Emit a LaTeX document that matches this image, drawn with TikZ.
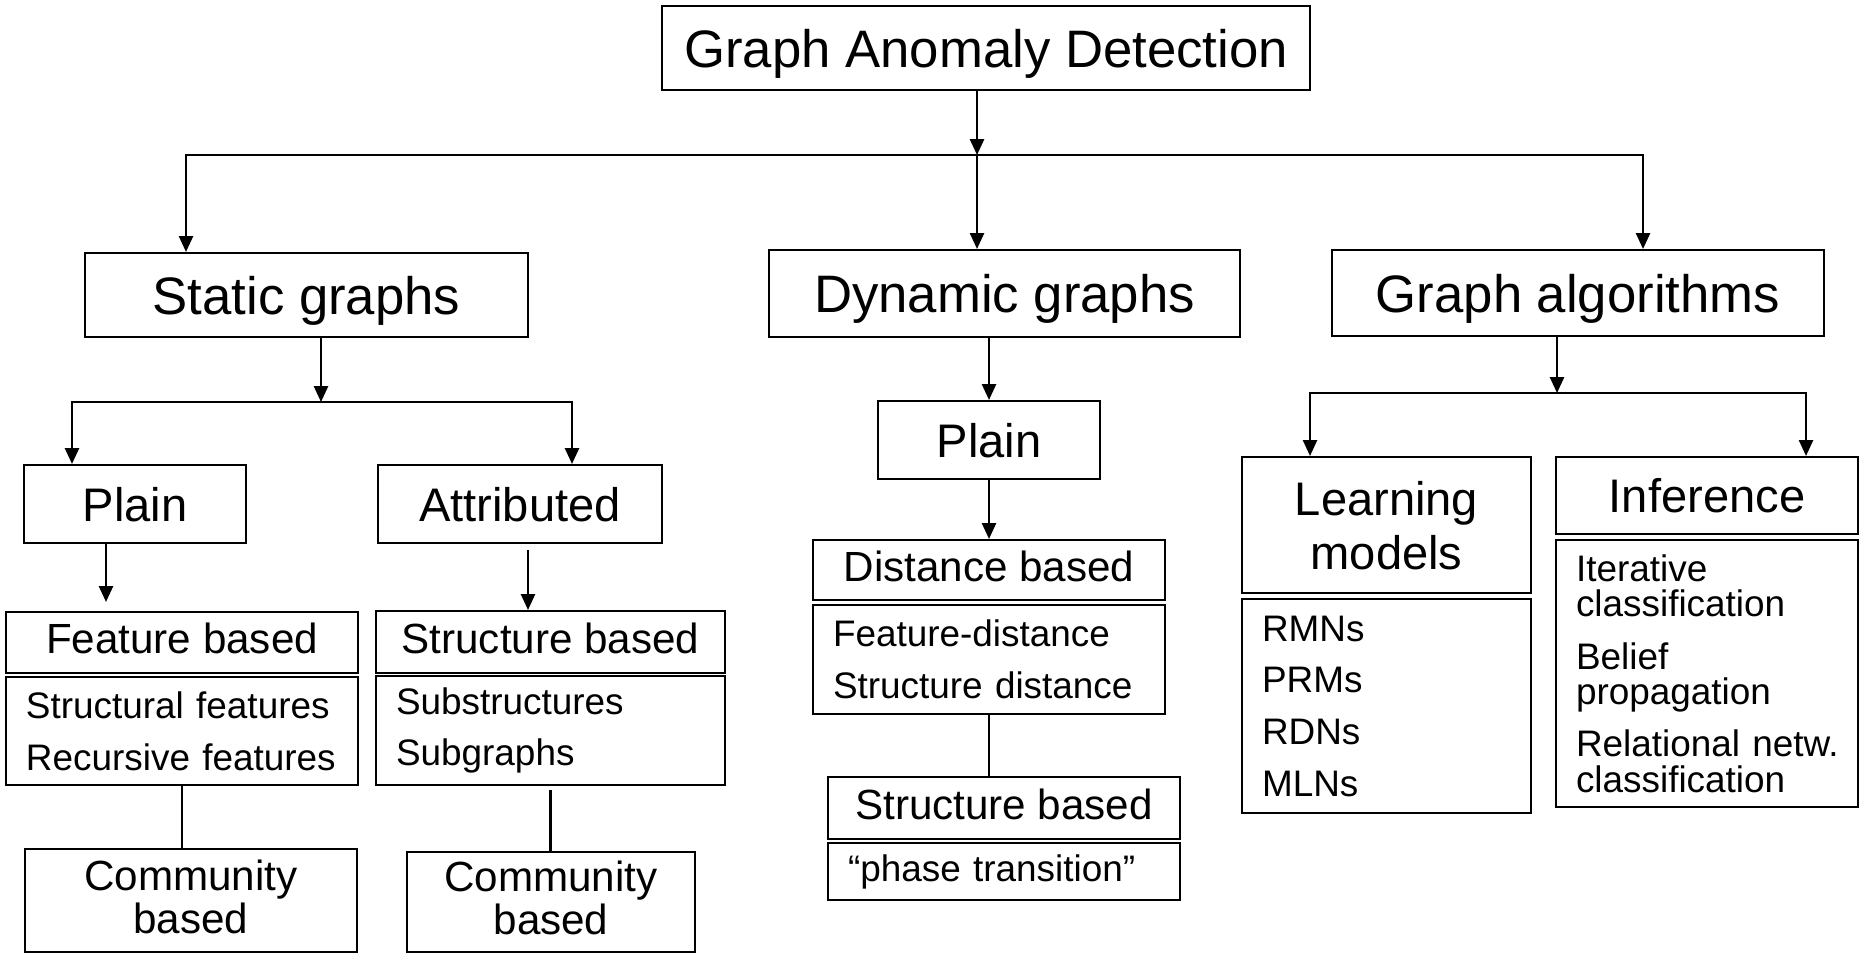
\documentclass[tikz,border=0pt]{standalone}
\usepackage{fontspec}
\setmainfont{Liberation Sans}
\usepackage{tikz}
\usetikzlibrary{positioning, arrows.meta}

\begin{document}
\begin{tikzpicture}[
  box/.style={draw, line width=0.6pt, inner sep=0pt, align=center},
  catbox/.style={box, text depth=0pt, font=\fontsize{15}{18}\selectfont},
  subbox/.style={box, text depth=0pt, font=\fontsize{13.4}{15.4}\selectfont},
  methbox/.style={box, text depth=2.3pt, font=\fontsize{12}{11.1}\selectfont},
  listbox/.style={box, align=left, inner xsep=2mm, font=\fontsize{10.5}{14.7}\selectfont},
  arr/.style={-{Triangle[length=4.5pt,width=4pt]}, line width=0.6pt},
  link/.style={line width=0.6pt}
]
\useasboundingbox (0,0) rectangle (18.6,-9.53);

% nodes
\node[catbox, minimum width=6.48cm, minimum height=0.84cm] (GAD) at (9.86,-0.48) {Graph Anomaly Detection};
\node[catbox, minimum width=4.43cm, minimum height=0.84cm] (Stat) at (3.065,-2.95) {Static graphs};
\node[catbox, minimum width=4.71cm, minimum height=0.87cm] (Dyn) at (10.045,-2.935) {Dynamic graphs};
\node[catbox, minimum width=4.92cm, minimum height=0.86cm] (Alg) at (15.78,-2.93) {Graph algorithms};

% static graphs
\node[subbox, minimum width=2.22cm, minimum height=0.78cm] (StPlain) at (1.35,-5.04) {Plain};
\node[subbox, minimum width=2.84cm, minimum height=0.78cm] (Attr) at (5.20,-5.04) {Attributed};
\node[methbox, minimum width=3.52cm, minimum height=0.61cm] (Feat) at (1.82,-6.425) {Feature based};
\node[listbox, text width=3.12cm, minimum height=1.08cm] (FeatL) at (1.82,-7.31) {Structural~features\\Recursive~features};
\node[methbox, minimum width=3.49cm, minimum height=0.62cm] (Struc) at (5.505,-6.42) {Structure based};
\node[listbox, text width=3.09cm, minimum height=1.09cm] (StrucL) at (5.505,-7.305) {Substructures\\Subgraphs};
\node[methbox, minimum width=3.32cm, minimum height=1.03cm] (ComA) at (1.91,-9.005) {Community\\based};
\node[methbox, minimum width=2.88cm, minimum height=1.00cm] (ComB) at (5.51,-9.02) {Community\\based};

% dynamic graphs
\node[subbox, minimum width=2.22cm, minimum height=0.78cm] (DyPlain) at (9.89,-4.40) {Plain};
\node[methbox, minimum width=3.52cm, minimum height=0.60cm] (Dist) at (9.89,-5.70) {Distance based};
\node[listbox, text width=3.12cm, minimum height=1.09cm] (DistL) at (9.89,-6.595) {Feature-distance\\Structure~distance};
\node[methbox, minimum width=3.52cm, minimum height=0.62cm] (DyStruc) at (10.04,-8.08) {Structure based};
\node[listbox, text width=3.12cm, minimum height=0.57cm] (Phase) at (10.04,-8.715) {``phase~transition''};

% graph algorithms
\node[subbox, minimum width=2.89cm, minimum height=1.36cm] (Learn) at (13.865,-5.25) {Learning\\models};
\node[listbox, text width=2.49cm, minimum height=2.14cm] (LearnL) at (13.865,-7.06) {RMNs\\PRMs\\RDNs\\MLNs};
\node[subbox, minimum width=3.02cm, minimum height=0.77cm] (Inf) at (17.07,-4.955) {Inference};
\node[listbox, text width=2.62cm, minimum height=2.67cm, font=\fontsize{10.5}{10}\selectfont] (InfL) at (17.07,-6.735)
  {Iterative\\classification\\[5pt]Belief\\propagation\\[5pt]Relational~netw.\\classification};

% junctions
\coordinate (split0) at (9.77,-1.55);
\coordinate (split1) at (3.21,-4.02);
\coordinate (split2) at (15.57,-3.93);
\coordinate (pA) at ([xshift=-0.29cm]StPlain.south);
\coordinate (pB) at ([xshift=0.08cm]Attr.south);

% arrows
\draw[arr] (GAD.south -| split0) -- (split0);
\draw[arr] (split0) -| ([xshift=-1.205cm]Stat.north);
\draw[arr] (split0) -- (Dyn.north -| split0);
\draw[arr] (split0) -| ([xshift=0.65cm]Alg.north);

\draw[arr] (Stat.south -| split1) -- (split1);
\draw[arr] (split1) -| ([xshift=-0.63cm]StPlain.north);
\draw[arr] (split1) -| ([xshift=0.52cm]Attr.north);
\draw[arr, shorten >=0.9mm] (pA) -- (pA |- Feat.north);
\draw[arr, shorten <=0.6mm] (pB) -- (pB |- Struc.north);
\draw[link] (FeatL.south) -- (FeatL.south |- ComA.north);
\draw[link, shorten <=0.4mm] (StrucL.south) -- (StrucL.south |- ComB.north);

\draw[arr] (Dyn.south -| DyPlain.north) -- (DyPlain.north);
\draw[arr] (DyPlain.south) -- (DyPlain.south |- Dist.north);
\draw[link] (DistL.south) -- (DistL.south |- DyStruc.north);

\draw[arr] (Alg.south -| split2) -- (split2);
\draw[arr] (split2) -| ([xshift=-0.765cm]Learn.north);
\draw[arr] (split2) -| ([xshift=0.99cm]Inf.north);
\end{tikzpicture}
\end{document}
